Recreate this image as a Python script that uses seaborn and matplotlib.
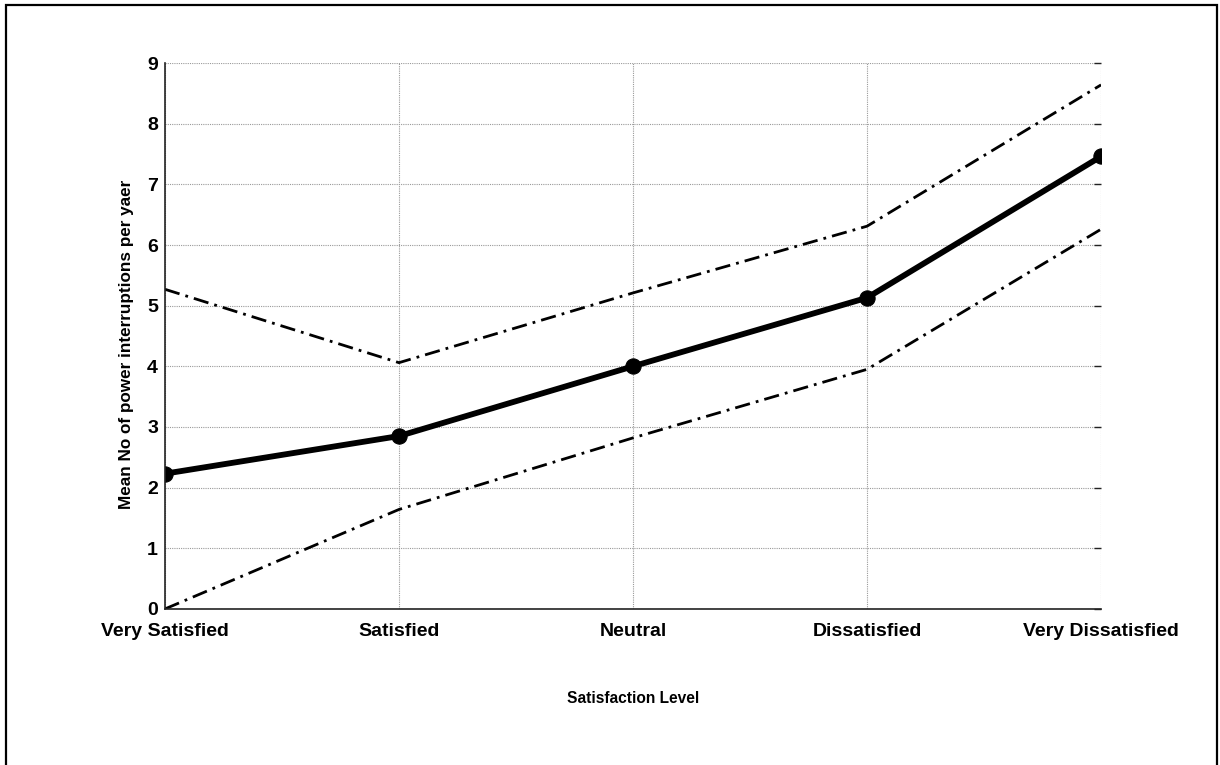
import matplotlib
matplotlib.use("Agg")
import matplotlib.pyplot as plt
from matplotlib.patches import Rectangle
import seaborn as sns

levels = ["Very Satisfied", "Satisfied", "Neutral", "Dissatisfied", "Very Dissatisfied"]
mean_interruptions = [2.23, 2.85, 4.00, 5.13, 7.46]
upper_bound = [5.27, 4.06, 5.21, 6.31, 8.64]
lower_bound = [0.00, 1.64, 2.82, 3.95, 6.26]
y_ticks = [0, 1, 2, 3, 4, 5, 6, 7, 8, 9]

sns.set_style("white")
plt.rcParams["font.family"] = ["Liberation Sans", "DejaVu Sans"]
plt.rcParams["font.weight"] = "bold"
plt.rcParams["text.color"] = "black"
plt.rcParams["axes.labelcolor"] = "black"

fig = plt.figure(figsize=(12.2, 7.65), dpi=100)
ax = fig.add_axes([0.1352, 0.204, 0.7673, 0.7136])

dashdot = (0, (5.5, 2.2, 1, 2.2))
sns.lineplot(x=levels, y=upper_bound, ax=ax, color="black", lw=2.0,
             linestyle=dashdot, sort=False)
sns.lineplot(x=levels, y=lower_bound, ax=ax, color="black", lw=2.0,
             linestyle=dashdot, sort=False)
sns.lineplot(x=levels, y=mean_interruptions, ax=ax, color="black", lw=4.2,
             marker="o", markersize=11, markeredgecolor="black", sort=False)

ax.set_xlim(0, len(levels) - 1)
ax.set_ylim(0, 9)
ax.set_yticks(y_ticks)
ax.set_yticklabels([str(v) for v in y_ticks])

ax.grid(True, color="#9a9a9a", linestyle=(0, (1, 1)), linewidth=0.8)
for side in ("top", "right"):
    ax.spines[side].set_visible(False)
for side in ("left", "bottom"):
    ax.spines[side].set_color("#222222")
    ax.spines[side].set_linewidth(1.2)

ax.tick_params(axis="both", direction="in", length=5, width=1, color="#222222",
               labelsize=14, labelcolor="black")
ax.tick_params(axis="y", right=True, pad=5)
ax.tick_params(axis="x", pad=10)
for lbl in ax.get_xticklabels() + ax.get_yticklabels():
    lbl.set_fontweight("bold")

ax.set_xlabel("Satisfaction Level", fontsize=11.2, fontweight="bold", labelpad=37)
ax.set_ylabel("Mean No of power interruptions per yaer", fontsize=12.3,
              fontweight="bold", labelpad=8)
ax.yaxis.set_label_coords(-0.033, 0.485)

fig.patches.append(Rectangle((0.0049, -0.05), 0.9926, 1.0435, transform=fig.transFigure,
                             fill=False, edgecolor="black", linewidth=1.6))

fig.savefig("out.png", dpi=100)
